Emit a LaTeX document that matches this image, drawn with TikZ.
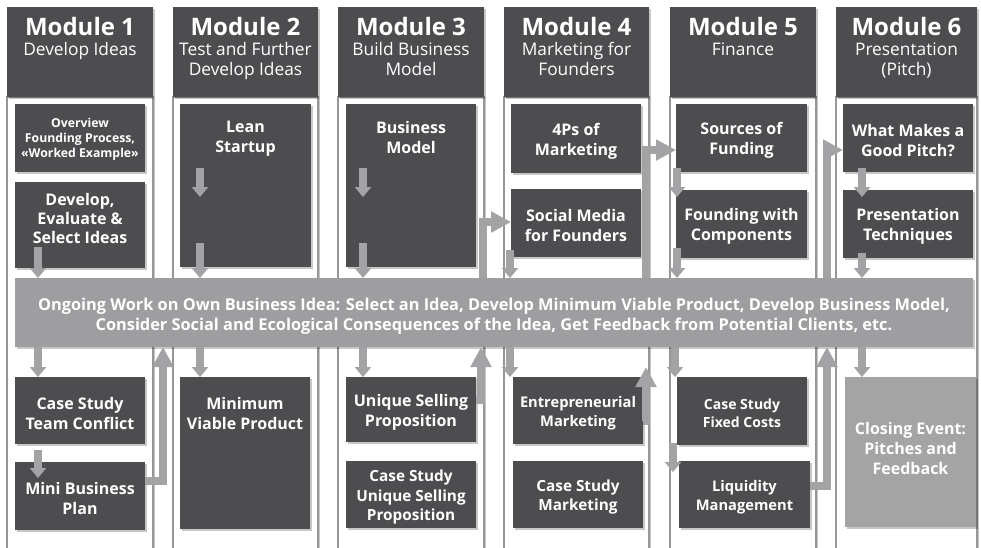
\documentclass[tikz,border=0pt]{standalone}
\usepackage{fontspec}
\setmainfont{Open Sans}
\usetikzlibrary{arrows.meta,shadows,calc}
\definecolor{dk}{RGB}{77,77,79}
\definecolor{ag}{RGB}{163,163,165}
\definecolor{bn}{RGB}{158,158,160}
\definecolor{cl}{RGB}{164,164,164}
\definecolor{edgec}{RGB}{150,150,150}
\newcommand{\ttl}{\fontsize{18}{15}\selectfont\bfseries}
\newcommand{\mkbox}[6]{\node[#6, minimum width={(#4-#2)*0.75pt}, minimum height={(#5-#3)*0.75pt}, anchor=north west] (#1) at (#2,#3) {};}
\begin{document}
\begin{tikzpicture}[x=0.75pt,y=-0.75pt,
  shd/.style={general shadow={fill=black, opacity=0.22, shadow xshift=1.5pt, shadow yshift=-1.5pt}},
  col/.style={draw=edgec, line width=0.8pt, fill=white, shd, inner sep=0, outer sep=0},
  hdr/.style={fill=dk, shd, inner sep=0, outer sep=0, label={[htxt]north:{#1}}},
  htxt/.style={anchor=north, yshift=-7.5pt, inner sep=0, align=center, text=white, font=\fontsize{13}{15}\selectfont},
  dbox/.style={fill=dk, shd, inner sep=0, outer sep=0},
  lbox/.style={fill=cl, shd, inner sep=0, outer sep=0},
  bnr/.style={fill=bn, shd, inner sep=0, outer sep=0},
  btxt/.style={anchor=center, inner sep=0, yshift=-2pt, text=white, align=center},
  ct/.style={label={[btxt,font=\bfseries\fontsize{12}{15}\selectfont]center:{#1}}},
  ctc/.style={label={[btxt,yshift=5pt,font=\bfseries\fontsize{12}{15}\selectfont]center:{#1}}},
  cts/.style={label={[btxt,font=\bfseries\fontsize{11.5}{14.6}\selectfont]center:{#1}}},
  ctm/.style={label={[btxt,font=\bfseries\fontsize{11}{14.3}\selectfont]center:{#1}}},
  ctx/.style={label={[btxt,font=\bfseries\fontsize{10.5}{13.5}\selectfont]center:{#1}}},
  cto/.style={label={[btxt,yshift=1pt,font=\bfseries\fontsize{9.2}{11.6}\selectfont]center:{#1}}},
  ctb/.style={label={[btxt,yshift=-0.5pt,font=\bfseries\fontsize{12.25}{15}\selectfont]center:{#1}}},
  ttxt/.style={anchor=north, inner sep=0, text=white, align=center, font=\bfseries\fontsize{12}{15}\selectfont},
  ar/.style={draw=ag, line width=6pt, -{Triangle[width=12pt,length=7.5pt]}},
  arL/.style={draw=ag, line width=5.5pt, line join=miter, -{Triangle[width=15pt,length=15pt]}}
]
\useasboundingbox (0,0) rectangle (981,547);
\fill[white] (0,0) rectangle (981,547);
\clip (0,0) rectangle (981,547);

% columns
\mkbox{col1}{7}{97}{153}{560}{col}
\mkbox{col2}{173}{97}{318}{560}{col}
\mkbox{col3}{338}{97}{484}{560}{col}
\mkbox{col4}{504}{97}{649}{560}{col}
\mkbox{col5}{670}{97}{816}{560}{col}
\mkbox{col6}{836}{97}{977}{560}{col}

% headers
\mkbox{h1}{7}{7}{153}{97}{hdr={{\ttl Module 1}\\Develop Ideas}}
\mkbox{h2}{173}{7}{318}{97}{hdr={{\ttl Module 2}\\Test and Further\\Develop Ideas}}
\mkbox{h3}{338}{7}{484}{97}{hdr={{\ttl Module 3}\\Build Business\\Model}}
\mkbox{h4}{504}{7}{649}{97}{hdr={{\ttl Module 4}\\Marketing for\\Founders}}
\mkbox{h5}{670}{7}{816}{97}{hdr={{\ttl Module 5}\\Finance}}
\mkbox{h6}{836}{7}{977}{97}{hdr={{\ttl Module 6}\\Presentation\\(Pitch)}}

% upper boxes
\mkbox{m1a}{15}{104}{145}{172}{dbox,cto={Overview\\Founding Process,\\«Worked Example»}}
\mkbox{m1b}{15}{182}{145}{268}{dbox,label={[ttxt,yshift=-8.5pt,font=\bfseries\fontsize{12}{14}\selectfont]north:{Develop,\\Evaluate \&\\Select Ideas}}}
\mkbox{m2a}{180}{104}{311}{267}{dbox,label={[ttxt,yshift=-12.75pt]north:{Lean\\Startup}}}
\mkbox{m3a}{346}{104}{476}{267}{dbox,label={[ttxt,yshift=-12.75pt]north:{Business\\Model}}}
\mkbox{m4a}{511}{104}{641}{173}{dbox,ct={4Ps of\\Marketing}}
\mkbox{m4b}{511}{189}{641}{257}{dbox,ct={Social Media\\for Founders}}
\mkbox{m5a}{676}{104}{807}{172}{dbox,ct={Sources of\\Funding}}
\mkbox{m5b}{676}{190}{807}{258}{dbox,ct={Founding with\\Components}}
\mkbox{m6a}{843}{104}{973}{172}{dbox,ct={What Makes a\\Good Pitch?}}
\mkbox{m6b}{843}{190}{973}{258}{dbox,ct={Presentation\\Techniques}}

% banner
\mkbox{banner}{15}{278}{973}{347}{bnr,ctb={Ongoing Work on Own Business Idea: Select an Idea, Develop Minimum Viable Product, Develop Business Model,\\Consider Social and Ecological Consequences of the Idea, Get Feedback from Potential Clients, etc.}}

% lower boxes
\mkbox{m1c}{15}{377}{145}{444}{dbox,ct={Case Study\\Team Conflict}}
\mkbox{m1d}{15}{462}{145}{530}{dbox,ct={Mini Business\\Plan}}
\mkbox{m2b}{180}{377}{310}{529}{dbox,label={[ttxt,yshift=-15pt]north:{Minimum\\Viable Product}}}
\mkbox{m3b}{346}{377}{476}{442}{dbox,ct={Unique Selling\\Proposition}}
\mkbox{m3c}{346}{461}{476}{528}{dbox,cts={Case Study\\Unique Selling\\Proposition}}
\mkbox{m4c}{513}{377}{643}{444}{dbox,ctm={Entrepreneurial\\Marketing}}
\mkbox{m4d}{513}{461}{643}{528}{dbox,cts={Case Study\\Marketing}}
\mkbox{m5c}{677}{377}{807}{445}{dbox,ctx={Case Study\\Fixed Costs}}
\mkbox{m5d}{679}{461}{810}{528}{dbox,ctm={Liquidity\\Management}}
\mkbox{m6c}{845}{377}{976}{527}{lbox,ctc={Closing Event:\\Pitches and\\Feedback}}

% arrows column 1
\coordinate (p11) at (38,247);
\coordinate (p13) at (38,450);
\coordinate (p13t) at (38,478);
\coordinate (u1) at (163,481);
\draw[ar] (p11) -- (p11 |- banner.north);
\draw[ar] (p11 |- banner.south) -- (p11 |- m1c.north);
\draw[ar] (p13) -- (p13t);
\draw[arL] (m1d.east |- u1) -| (u1 |- banner.south);

% column 2
\coordinate (p21) at (200,168);
\coordinate (p21t) at (200,197);
\coordinate (p22) at (200,243);
\draw[ar] (p21) -- (p21t);
\draw[ar] (p22) -- (p22 |- banner.north);
\draw[ar] (p22 |- banner.south) -- (p22 |- m2b.north);

% column 3
\coordinate (p31) at (363,168);
\coordinate (p31t) at (363,197);
\coordinate (p32) at (363,243);
\coordinate (u3) at (481,400);
\coordinate (r3) at (483,222);
\draw[ar] (p31) -- (p31t);
\draw[ar] (p32) -- (p32 |- banner.north);
\draw[ar] (p32 |- banner.south) -- (p32 |- m3b.north);
\draw[arL] (m3b.east |- u3) -| (u3 |- banner.south);
\draw[arL] (r3 |- banner.north) |- (m4b.west |- r3);

% column 4
\coordinate (p41) at (510,250);
\coordinate (u4) at (646,421);
\coordinate (u4t) at (646,367);
\coordinate (r4) at (646,150);
\draw[ar] (p41) -- (p41 |- banner.north);
\draw[ar] (p41 |- banner.south) -- (p41 |- m4c.north);
\draw[arL] (m4c.east |- u4) -| (u4t);
\draw[arL] (r4 |- banner.north) |- (m5a.west |- r4);

% column 5
\coordinate (p51) at (677,168);
\coordinate (p51t) at (677,197);
\coordinate (p52) at (677,248);
\coordinate (p53) at (675,350);
\coordinate (p54) at (673,443);
\coordinate (p54t) at (673,472);
\coordinate (u5) at (827,486);
\coordinate (r5) at (827,150);
\draw[ar] (p51) -- (p51t);
\draw[ar] (p52) -- (p52 |- banner.north);
\draw[ar] (p53 |- banner.south) -- (p53 |- m5c.north);
\draw[ar] (p54) -- (p54t);
\draw[arL] (m5d.east |- u5) -| (u5 |- banner.south);
\draw[arL] (r5 |- banner.north) |- (m6a.west |- r5);

% column 6
\coordinate (p61) at (862,168);
\coordinate (p61t) at (862,197);
\coordinate (p62) at (862,253);
\draw[ar] (p61) -- (p61t);
\draw[ar] (p62) -- (p62 |- banner.north);
\draw[ar] (p62 |- banner.south) -- (p62 |- m6c.north);
\end{tikzpicture}
\end{document}
